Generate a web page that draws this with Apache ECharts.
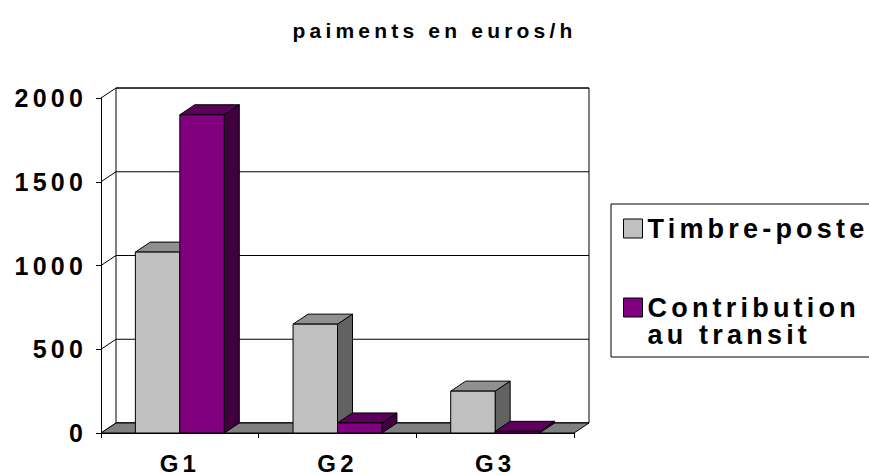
<!DOCTYPE html>
<html>
<head>
<meta charset="utf-8">
<script src="https://cdn.jsdelivr.net/npm/echarts@6/dist/echarts.min.js"></script>
<style>
  html, body { margin: 0; padding: 0; background: #ffffff; }
  #chart { width: 869px; height: 475px; letter-spacing: 4.2px; }
</style>
</head>
<body>
<div id="chart"></div>
<script>
// Payments per group (euros/h)
const categories = ['G1', 'G2', 'G3'];
const timbrePoste = [1080, 650, 250];
const contribution = [1900, 60, 10];
const yTicks = [0, 500, 1000, 1500, 2000];
const seriesNames = ['Timbre-poste', 'Contribution\nau transit'];

// 3D look: depth offset of the back plane, in pixels
const DX = 15;
const DY = -10;
const BAR_RATIO = 0.282; // bar width as a share of the category band

const palettes = [
  { front: '#c0c0c0', top: '#909090', side: '#626262' },
  { front: '#800080', top: '#5c005c', side: '#400040' }
];
const FONT = 'Liberation Sans, Arial, sans-serif';

function barRenderer(idx) {
  return function (params, api) {
    const cat = api.value(0);
    const val = api.value(1);
    const base = api.coord([cat, 0]);
    const top = api.coord([cat, val]);
    const bw = api.size([1, 0])[0] * BAR_RATIO;
    const x0 = base[0] + (idx === 0 ? -bw : 0);
    const x1 = x0 + bw;
    const yb = base[1];
    const yt = top[1];
    const pal = palettes[idx];
    const stroke = { stroke: '#000', lineWidth: 1 };
    return {
      type: 'group',
      children: [
        { type: 'polygon', shape: { points: [[x1, yt], [x1 + DX, yt + DY], [x1 + DX, yb + DY], [x1, yb]] },
          style: Object.assign({ fill: pal.side }, stroke) },
        { type: 'polygon', shape: { points: [[x0, yt], [x1, yt], [x1 + DX, yt + DY], [x0 + DX, yt + DY]] },
          style: Object.assign({ fill: pal.top }, stroke) },
        { type: 'rect', shape: { x: x0, y: yt, width: bw, height: yb - yt },
          style: Object.assign({ fill: pal.front }, stroke) }
      ]
    };
  };
}

// Back wall, its gridlines, the side-wall gridlines and the floor
function frameRenderer(params, api) {
  const band = api.size([1, 0])[0];
  const L = api.coord([0, 0])[0] - band / 2;
  const R = api.coord([categories.length - 1, 0])[0] + band / 2;
  const y0 = api.coord([0, yTicks[0]])[1];
  const yTop = api.coord([0, yTicks[yTicks.length - 1]])[1];
  const line = { stroke: '#000', lineWidth: 1 };
  const children = [
    { type: 'rect', shape: { x: L + DX, y: yTop + DY, width: R - L, height: y0 - yTop },
      style: { fill: '#fff', stroke: '#000', lineWidth: 1 } }
  ];
  yTicks.forEach(function (v) {
    const y = api.coord([0, v])[1];
    children.push({ type: 'line', shape: { x1: L + DX, y1: y + DY, x2: R + DX, y2: y + DY }, style: line });
    children.push({ type: 'line', shape: { x1: L, y1: y, x2: L + DX, y2: y + DY }, style: line });
  });
  children.push({
    type: 'polygon',
    shape: { points: [[L, y0], [R, y0], [R + DX, y0 + DY], [L + DX, y0 + DY]] },
    style: { fill: '#808080', stroke: '#000', lineWidth: 1 }
  });
  return { type: 'group', children: children };
}

const chart = echarts.init(document.getElementById('chart'), null, { renderer: 'svg' });

chart.setOption({
  animation: false,
  backgroundColor: '#ffffff',
  textStyle: { fontFamily: FONT, fontWeight: 'bold', color: '#000' },
  title: {
    text: 'paiments en euros/h',
    left: 'center',
    top: 20,
    padding: 0,
    textStyle: { fontFamily: FONT, fontWeight: 'bold', fontSize: 21, color: '#000' }
  },
  legend: {
    orient: 'vertical',
    left: 611,
    top: 204,
    padding: [11, 300, 9, 12],
    itemGap: 25,
    itemWidth: 19,
    itemHeight: 19,
    icon: 'rect',
    selectedMode: false,
    borderColor: '#000',
    borderWidth: 1,
    itemStyle: { borderColor: '#000', borderWidth: 1 },
    // multi-line names start level with their swatch
    formatter: function (name) { return name.indexOf('\n') >= 0 ? '\n' + name : name; },
    textStyle: { fontFamily: FONT, fontWeight: 'bold', fontSize: 27, lineHeight: 27, color: '#000' },
    data: seriesNames
  },
  grid: { left: 101, right: 295, top: 98, bottom: 42, outerBoundsMode: 'none' },
  xAxis: {
    type: 'category',
    data: categories,
    axisLine: { show: true, lineStyle: { color: '#000', width: 1 } },
    axisTick: { show: true, length: 5, lineStyle: { color: '#000' } },
    axisLabel: { fontFamily: FONT, fontWeight: 'bold', fontSize: 24, lineHeight: 20, color: '#000', margin: 20 },
    splitLine: { show: false }
  },
  yAxis: {
    type: 'value',
    min: yTicks[0],
    max: yTicks[yTicks.length - 1],
    interval: yTicks[1] - yTicks[0],
    axisLine: { show: true, lineStyle: { color: '#000', width: 1 } },
    axisTick: { show: true, length: 5, lineStyle: { color: '#000' } },
    axisLabel: {
      fontFamily: FONT, fontWeight: 'bold', fontSize: 25, color: '#000', margin: 14,
      formatter: function (v) { return String(v); }
    },
    splitLine: { show: false }
  },
  series: [
    {
      type: 'custom',
      name: 'frame',
      renderItem: frameRenderer,
      data: [[0, 0]],
      silent: true,
      z: 1
    },
    {
      type: 'custom',
      name: seriesNames[0],
      renderItem: barRenderer(0),
      itemStyle: { color: palettes[0].front },
      data: categories.map(function (c, i) { return [i, timbrePoste[i]]; }),
      z: 2
    },
    {
      type: 'custom',
      name: seriesNames[1],
      renderItem: barRenderer(1),
      itemStyle: { color: palettes[1].front },
      data: categories.map(function (c, i) { return [i, contribution[i]]; }),
      z: 2
    }
  ]
});
</script>
</body>
</html>
